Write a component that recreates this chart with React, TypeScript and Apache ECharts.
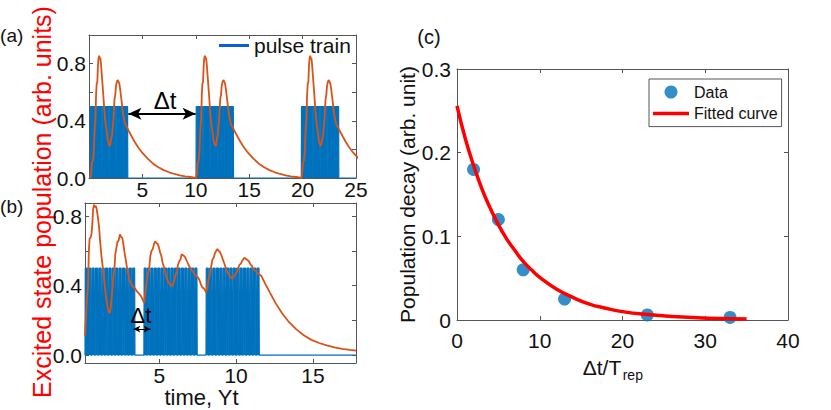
import React, { useEffect, useRef } from 'react';
import * as echarts from 'echarts';

const FONT = '"Liberation Sans", Arial, Helvetica, sans-serif';
const AX = '#555555';
const TXT = '#111111';
const BLUE = '#0072BD';
const ORANGE = '#D95319';

// ---------- panel (a) ----------
const aXTickValues = [0, 5, 10, 15, 20, 25];
const aXLabelValues = [5, 10, 15, 20, 25];
const aYTickValues = [0, 0.2, 0.4, 0.6, 0.8, 1.0];
const aYLabelValues = [0, 0.4, 0.8];
const aPulseBlocks = [[0.12, 3.67], [10.02, 13.6], [19.88, 23.43]];
const aCycleOffsets = [0, 9.9, 19.76];
// one excitation cycle read from the first block (t, population)
const aCycle = [
  [0.12, 0.0], [0.2, 0.03], [0.28, 0.11], [0.36, 0.12], [0.43, 0.17], [0.5, 0.3], [0.55, 0.37],
  [0.6, 0.4], [0.66, 0.58], [0.72, 0.66], [0.78, 0.67], [0.84, 0.79], [0.9, 0.84], [0.96, 0.855],
  [1.02, 0.83], [1.06, 0.84], [1.12, 0.8], [1.2, 0.72], [1.28, 0.64], [1.35, 0.57], [1.43, 0.48],
  [1.51, 0.41], [1.59, 0.36], [1.67, 0.32], [1.75, 0.27], [1.84, 0.24], [1.92, 0.225], [1.98, 0.23],
  [2.04, 0.26], [2.1, 0.28], [2.16, 0.3], [2.22, 0.36], [2.28, 0.4], [2.34, 0.49], [2.4, 0.56],
  [2.46, 0.58], [2.52, 0.64], [2.6, 0.67], [2.68, 0.685], [2.76, 0.675], [2.84, 0.66], [2.92, 0.62],
  [3.0, 0.57], [3.08, 0.52], [3.16, 0.46], [3.24, 0.43], [3.32, 0.4], [3.42, 0.37], [3.52, 0.36],
  [3.62, 0.345], [3.75, 0.325], [4.0, 0.29], [4.3, 0.25], [4.6, 0.215], [5.0, 0.175], [5.5, 0.135],
  [6.0, 0.1], [6.5, 0.075], [7.0, 0.055], [7.5, 0.04], [8.0, 0.028], [8.5, 0.019], [9.0, 0.012],
  [9.5, 0.007], [9.9, 0.003],
];
const aArrow = { from: 3.69, to: 9.98, level: 0.45 };

// ---------- panel (b) ----------
const bXTickValues = [5, 10, 15];
const bYTickValues = [0, 0.2, 0.4, 0.6, 0.8];
const bYLabelValues = [0, 0.4, 0.8];
const bPulseBlocks = [[0.17, 3.57], [4.0, 7.6], [8.04, 11.65]];
const bCurve = [
  [0.17, 0.11], [0.22, 0.2], [0.3, 0.33], [0.37, 0.4], [0.42, 0.6], [0.47, 0.67], [0.55, 0.68],
  [0.6, 0.7], [0.65, 0.76], [0.7, 0.84], [0.76, 0.865], [0.82, 0.85], [0.87, 0.86], [0.93, 0.84],
  [1.0, 0.8], [1.08, 0.74], [1.16, 0.65], [1.24, 0.57], [1.32, 0.51], [1.4, 0.45], [1.48, 0.38],
  [1.56, 0.32], [1.64, 0.28], [1.72, 0.25], [1.78, 0.24], [1.84, 0.27], [1.9, 0.33], [1.96, 0.39],
  [2.02, 0.46], [2.08, 0.49], [2.14, 0.58], [2.2, 0.61], [2.28, 0.65], [2.36, 0.66], [2.44, 0.695],
  [2.52, 0.68], [2.6, 0.675], [2.68, 0.63], [2.76, 0.58], [2.84, 0.54], [2.92, 0.49], [3.0, 0.46],
  [3.08, 0.43], [3.16, 0.41], [3.24, 0.4], [3.32, 0.39], [3.42, 0.385], [3.52, 0.37], [3.62, 0.36],
  [3.72, 0.35], [3.82, 0.34], [3.92, 0.32], [4.02, 0.3], [4.1, 0.36], [4.18, 0.42], [4.26, 0.47],
  [4.34, 0.49], [4.42, 0.57], [4.5, 0.6], [4.58, 0.61], [4.66, 0.64], [4.74, 0.655], [4.82, 0.645],
  [4.9, 0.64], [4.98, 0.62], [5.06, 0.59], [5.14, 0.57], [5.22, 0.53], [5.3, 0.51], [5.38, 0.48],
  [5.46, 0.45], [5.54, 0.43], [5.62, 0.415], [5.7, 0.41], [5.8, 0.395], [5.9, 0.41], [5.98, 0.43],
  [6.06, 0.46], [6.14, 0.48], [6.22, 0.52], [6.3, 0.54], [6.38, 0.55], [6.46, 0.58], [6.54, 0.575],
  [6.62, 0.57], [6.7, 0.56], [6.8, 0.54], [6.9, 0.52], [7.0, 0.505], [7.1, 0.49], [7.2, 0.48],
  [7.3, 0.465], [7.4, 0.455], [7.5, 0.45], [7.6, 0.435], [7.7, 0.41], [7.8, 0.39], [7.9, 0.385],
  [8.0, 0.37], [8.06, 0.36], [8.14, 0.4], [8.22, 0.44], [8.3, 0.47], [8.38, 0.51], [8.46, 0.55],
  [8.54, 0.56], [8.62, 0.585], [8.7, 0.6], [8.78, 0.61], [8.86, 0.6], [8.94, 0.595], [9.02, 0.58],
  [9.1, 0.56], [9.18, 0.54], [9.26, 0.52], [9.34, 0.5], [9.42, 0.48], [9.5, 0.47], [9.58, 0.455],
  [9.66, 0.45], [9.74, 0.44], [9.82, 0.445], [9.9, 0.46], [9.98, 0.47], [10.06, 0.48], [10.14, 0.5],
  [10.22, 0.52], [10.3, 0.525], [10.38, 0.54], [10.46, 0.55], [10.54, 0.56], [10.62, 0.555],
  [10.7, 0.55], [10.78, 0.545], [10.86, 0.535], [10.94, 0.52], [11.02, 0.515], [11.1, 0.5],
  [11.18, 0.49], [11.26, 0.485], [11.34, 0.48], [11.42, 0.47], [11.5, 0.465], [11.58, 0.46],
  [11.65, 0.455], [11.9, 0.41], [12.2, 0.36], [12.6, 0.295], [13.0, 0.24], [13.4, 0.195],
  [13.9, 0.15], [14.4, 0.115], [14.9, 0.088], [15.4, 0.07], [15.9, 0.056], [16.4, 0.045],
  [16.9, 0.036], [17.4, 0.03], [17.8, 0.026],
];
const bArrow = { from: 3.31, to: 4.44, level: 0.15 };

const pulsePeriod = 0.22;
const pulseHeight = 0.5;
const pulseWidthA = 0.212;
const pulseWidthB = 0.17;

// ---------- panel (c) ----------
const cDataX = [2, 5, 8, 13, 23, 33];
const cDataY = [0.18, 0.12, 0.06, 0.025, 0.006, 0.003];
const cFitX = [0, 1, 2, 3, 4, 5, 6, 7, 8, 9, 10, 12, 14, 16, 18, 20, 23, 26, 29, 32, 35];
const cFitY = [0.256, 0.217, 0.185, 0.157, 0.134, 0.114, 0.097, 0.083, 0.07, 0.06, 0.051, 0.037,
  0.027, 0.019, 0.014, 0.01, 0.0065, 0.0043, 0.0028, 0.0018, 0.0012];

function pulseTrain(blocks: number[][], width: number, xmin: number, xmax: number) {
  const pts: number[][] = [[xmin, 0]];
  for (const [s, e] of blocks) {
    for (let t = s; t + width <= e + 1e-6; t += pulsePeriod) {
      pts.push([t, 0], [t + 0.02, pulseHeight], [t + width - 0.02, pulseHeight], [t + width, 0]);
    }
  }
  pts.push([xmax, 0]);
  return pts;
}

const tickStyle = { inside: true, length: 4, lineStyle: { color: AX, width: 1 } };
const lineStyle = { show: true, onZero: false, lineStyle: { color: AX, width: 1 } };
const labelBase = { fontSize: 21, fontFamily: FONT, color: TXT };

function mirrorX(gridIndex: number, min: number, max: number, extra: any) {
  return {
    type: 'value', gridIndex, position: 'top', min, max, ...extra,
    axisLine: lineStyle, axisLabel: { show: false }, splitLine: { show: false },
  };
}
function mirrorY(gridIndex: number, min: number, max: number, extra: any) {
  return {
    type: 'value', gridIndex, position: 'right', min, max, ...extra,
    axisLine: lineStyle, axisLabel: { show: false }, splitLine: { show: false },
  };
}

export default function App() {
  const ref = useRef<HTMLDivElement>(null);
  useEffect(() => {
    if (!ref.current) return;
    const chart = echarts.init(ref.current, null, { renderer: 'svg' });
    const aCurve = aCycleOffsets.flatMap((off) => aCycle.map(([t, v]) => [t + off, v]));
    const fit = cFitX.map((x, i) => [x, cFitY[i]]);
    const pts = cDataX.map((x, i) => [x, cDataY[i]]);

    const option: any = {
      animation: false,
      grid: [
        { left: 89, top: 35, width: 267, height: 143 },
        { left: 85, top: 203, width: 271, height: 160 },
        { left: 457, top: 69, width: 331, height: 251 },
      ],
      xAxis: [
        {
          type: 'value', gridIndex: 0, min: 0, max: 25, interval: 5,
          axisLine: lineStyle, splitLine: { show: false },
          axisTick: { ...tickStyle, customValues: aXTickValues },
          axisLabel: { ...labelBase, margin: 1, customValues: aXLabelValues },
        },
        mirrorX(0, 0, 25, { interval: 5, axisTick: { ...tickStyle, customValues: aXTickValues } }),
        {
          type: 'value', gridIndex: 1, min: 0.17, max: 17.8,
          axisLine: lineStyle, splitLine: { show: false },
          axisTick: { ...tickStyle, customValues: bXTickValues },
          axisLabel: { ...labelBase, margin: 2, customValues: bXTickValues },
        },
        mirrorX(1, 0.17, 17.8, { axisTick: { ...tickStyle, customValues: bXTickValues } }),
        {
          type: 'value', gridIndex: 2, min: 0, max: 40, interval: 10,
          axisLine: lineStyle, splitLine: { show: false },
          axisTick: { ...tickStyle, length: 4 },
          axisLabel: { ...labelBase, margin: 10 },
        },
        mirrorX(2, 0, 40, { interval: 10, axisTick: tickStyle }),
      ],
      yAxis: [
        {
          type: 'value', gridIndex: 0, min: 0, max: 1,
          axisLine: lineStyle, splitLine: { show: false },
          axisTick: { ...tickStyle, customValues: aYTickValues },
          axisLabel: { ...labelBase, margin: 3, customValues: aYLabelValues, formatter: (v: number) => v.toFixed(1) },
        },
        mirrorY(0, 0, 1, { axisTick: { ...tickStyle, customValues: aYTickValues } }),
        {
          type: 'value', gridIndex: 1, min: -0.045, max: 0.875,
          axisLine: lineStyle, splitLine: { show: false },
          axisTick: { ...tickStyle, customValues: bYTickValues },
          axisLabel: { ...labelBase, margin: 3, customValues: bYLabelValues, formatter: (v: number) => v.toFixed(1) },
        },
        mirrorY(1, -0.045, 0.875, { axisTick: { ...tickStyle, customValues: bYTickValues } }),
        {
          type: 'value', gridIndex: 2, min: 0, max: 0.3, interval: 0.1,
          axisLine: lineStyle, splitLine: { show: false },
          axisTick: tickStyle,
          axisLabel: { ...labelBase, margin: 6 },
          name: 'Population decay (arb. unit)', nameLocation: 'middle', nameGap: 37,
          nameTextStyle: { fontSize: 21, fontFamily: FONT, color: TXT },
        },
        mirrorY(2, 0, 0.3, { interval: 0.1, axisTick: tickStyle }),
      ],
      legend: [
        {
          data: [{ name: 'pulse train', icon: 'rect', itemStyle: { color: '#0a5fd8' } }],
          left: 219, top: 35, padding: 0, itemWidth: 30, itemHeight: 3,
          symbolKeepAspect: false, selectedMode: false,
          textStyle: { fontSize: 21, fontFamily: FONT, color: TXT },
        },
        {
          data: [
            { name: 'Data', icon: 'circle' },
            { name: 'Fitted curve', icon: 'path://M0,0H36V3.5H0Z' },
          ],
          orient: 'vertical', left: 649, top: 79, padding: [5, 4, 5, 4], itemGap: 5.6,
          itemWidth: 36, itemHeight: 13, selectedMode: false,
          borderColor: '#555', borderWidth: 1, backgroundColor: '#fff',
          textStyle: { fontSize: 16, fontFamily: FONT, color: TXT },
        },
      ],
      series: [
        {
          type: 'line', name: 'pulse train', xAxisIndex: 0, yAxisIndex: 0,
          data: pulseTrain(aPulseBlocks, pulseWidthA, 0, 25),
          showSymbol: false, silent: true,
          lineStyle: { color: BLUE, width: 1.2 }, itemStyle: { color: BLUE },
          areaStyle: { color: BLUE, opacity: 1 }, z: 2,
        },
        {
          type: 'line', name: 'population a', xAxisIndex: 0, yAxisIndex: 0, data: aCurve,
          showSymbol: false, silent: true, lineStyle: { color: ORANGE, width: 1.8 }, itemStyle: { color: ORANGE }, z: 3,
          markLine: {
            silent: true, symbol: ['arrow', 'arrow'], symbolSize: [9, 13], label: { show: false },
            lineStyle: { color: '#000', width: 2, type: 'solid' },
            data: [[{ coord: [aArrow.from, aArrow.level] }, { coord: [aArrow.to, aArrow.level] }]],
          },
        },
        {
          type: 'line', name: 'pulse train b', xAxisIndex: 2, yAxisIndex: 2,
          data: pulseTrain(bPulseBlocks, pulseWidthB, 0.17, 17.8),
          showSymbol: false, silent: true,
          lineStyle: { color: BLUE, width: 1.2 }, itemStyle: { color: BLUE },
          areaStyle: { color: BLUE, opacity: 1 }, z: 2,
        },
        {
          type: 'line', name: 'population b', xAxisIndex: 2, yAxisIndex: 2, data: bCurve,
          showSymbol: false, silent: true, lineStyle: { color: ORANGE, width: 1.8 }, itemStyle: { color: ORANGE }, z: 3,
          markLine: {
            silent: true, symbol: ['arrow', 'arrow'], symbolSize: [5, 7], label: { show: false },
            lineStyle: { color: '#000', width: 1, type: 'solid' },
            data: [[{ coord: [bArrow.from, bArrow.level] }, { coord: [bArrow.to, bArrow.level] }]],
          },
        },
        {
          type: 'scatter', name: 'Data', xAxisIndex: 4, yAxisIndex: 4, data: pts,
          symbol: 'circle', symbolSize: 13, itemStyle: { color: BLUE }, z: 2, silent: true,
        },
        {
          type: 'line', name: 'Fitted curve', xAxisIndex: 4, yAxisIndex: 4, data: fit, smooth: true,
          symbol: 'none', showSymbol: false, silent: true,
          lineStyle: { color: '#FF0000', width: 3.5 }, itemStyle: { color: '#FF0000' }, z: 3,
        },
      ],
      graphic: [
        { type: 'text', x: 11.7, y: 35.5, style: { text: '(a)', fontSize: 19, fontFamily: FONT, fill: TXT, align: 'center', verticalAlign: 'middle' } },
        { type: 'text', x: 11.7, y: 206.5, style: { text: '(b)', fontSize: 19, fontFamily: FONT, fill: TXT, align: 'center', verticalAlign: 'middle' } },
        { type: 'text', x: 429, y: 37.3, style: { text: '(c)', fontSize: 20, fontFamily: FONT, fill: TXT, align: 'center', verticalAlign: 'middle' } },
        { type: 'text', x: 165, y: 100, z: 10, style: { text: 'Δt', fontSize: 24, fontFamily: FONT, fill: '#000', align: 'center', verticalAlign: 'middle' } },
        { type: 'text', x: 141, y: 315, z: 10, style: { text: 'Δt', fontSize: 22, fontFamily: FONT, fill: '#000', align: 'center', verticalAlign: 'middle' } },
        { type: 'text', x: 41.5, y: 202, rotation: Math.PI / 2, style: { text: 'Excited state population (arb. units)', fontSize: 25, fontFamily: FONT, fill: '#FF0000', align: 'center', verticalAlign: 'middle' } },
        { type: 'text', x: 201.5, y: 397, style: { text: 'time, Yt', fontSize: 22, fontFamily: FONT, fill: TXT, align: 'center', verticalAlign: 'middle' } },
        { type: 'text', x: 582.7, y: 367, style: { text: 'Δt/T', fontSize: 21, fontFamily: FONT, fill: TXT, align: 'left', verticalAlign: 'middle' } },
        { type: 'text', x: 622.7, y: 375, style: { text: 'rep', fontSize: 14, fontFamily: FONT, fill: TXT, align: 'left', verticalAlign: 'middle' } },
      ],
    };
    chart.setOption(option);
    return () => chart.dispose();
  }, []);
  return <div ref={ref} style={{ position: 'absolute', left: 0, top: 0, width: 831, height: 410 }} />;
}
